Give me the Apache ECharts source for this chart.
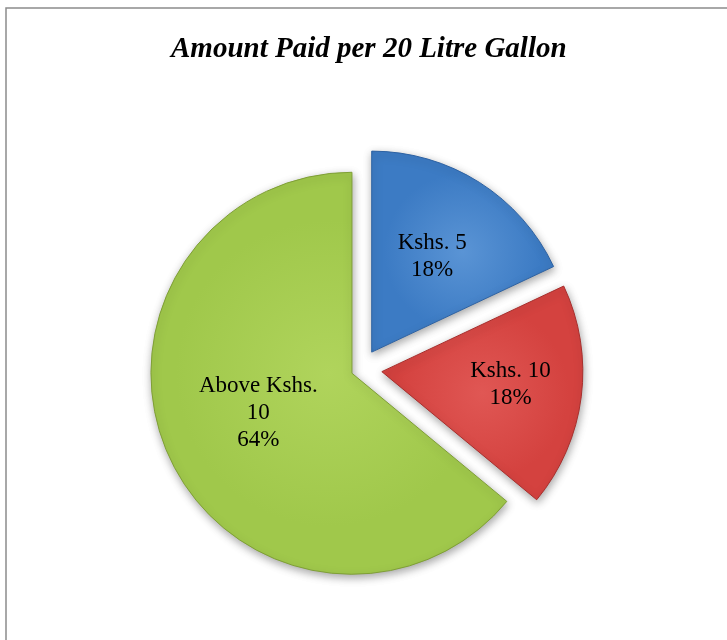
<!DOCTYPE html>
<html>
<head>
<meta charset="utf-8">
<script src="https://cdn.jsdelivr.net/npm/echarts@6/dist/echarts.min.js"></script>
<style>
html,body{margin:0;padding:0;background:#fff;}
#chart{width:727px;height:640px;}
</style>
</head>
<body>
<div id="chart"></div>
<script>
// ---- data ----
const chartTitle = 'Amount Paid per 20 Litre Gallon';
const categories = ['Kshs. 5', 'Kshs. 10', 'Above Kshs.\n10'];
const values = [18, 18, 64];

// ---- styling ----
const baseColors = [
  ['#5a94d5', '#3c7bc4', '#2d62a3'],
  ['#e05754', '#d4423f', '#a82f2d'],
  ['#b0d45c', '#a0c84b', '#7f9f36']
];
const explodeOffsets = [20, 21, 10];
const labelShifts = [[5, -8], [26, 0], [0, -4]];
const FONT = '"Liberation Serif", "Times New Roman", serif';

const chart = echarts.init(document.getElementById('chart'), null, {renderer: 'canvas'});

function gradient(c) {
  return {
    type: 'radial', x: 0.5, y: 0.5, r: 0.78,
    colorStops: [
      {offset: 0, color: c[0]},
      {offset: 0.55, color: c[1]},
      {offset: 0.92, color: c[1]},
      {offset: 1, color: c[2]}
    ]
  };
}

const series = categories.map((cat, i) => ({
  type: 'pie',
  center: [361, 369],
  radius: [0, 201],
  startAngle: 90,
  clockwise: true,
  avoidLabelOverlap: false,
  selectedMode: 'multiple',
  selectedOffset: explodeOffsets[i],
  emphasis: {disabled: true},
  silent: true,
  animation: false,
  z: 2,
  label: {
    show: true,
    position: 'inside',
    formatter: '{b}\n{d}%',
    fontFamily: FONT,
    fontSize: 23,
    lineHeight: 27,
    color: '#000'
  },
  labelLayout: {dx: labelShifts[i][0], dy: labelShifts[i][1]},
  labelLine: {show: false},
  data: categories.map((name, j) => {
    const mine = j === i;
    return {
      name: name,
      value: values[j],
      selected: mine,
      itemStyle: mine ? {
        color: gradient(baseColors[j]),
        borderColor: baseColors[j][2],
        borderWidth: 1,
        shadowBlur: 8,
        shadowColor: 'rgba(0,0,0,0.35)',
        shadowOffsetX: 1,
        shadowOffsetY: 3
      } : {color: 'rgba(0,0,0,0)', borderWidth: 0, shadowBlur: 0},
      label: {show: mine}
    };
  })
}));

chart.setOption({
  backgroundColor: '#ffffff',
  animation: false,
  title: {
    text: chartTitle,
    left: 166,
    top: 30,
    padding: 5,
    textStyle: {
      fontFamily: FONT,
      fontStyle: 'italic',
      fontWeight: 'bold',
      fontSize: 29,
      color: '#000'
    }
  },
  graphic: [{
    type: 'rect',
    z: -10,
    shape: {x: 6, y: 8, width: 760, height: 700},
    style: {fill: 'none', stroke: '#8c8c8c', lineWidth: 1.5},
    silent: true
  }],
  series: series
});
</script>
</body>
</html>
